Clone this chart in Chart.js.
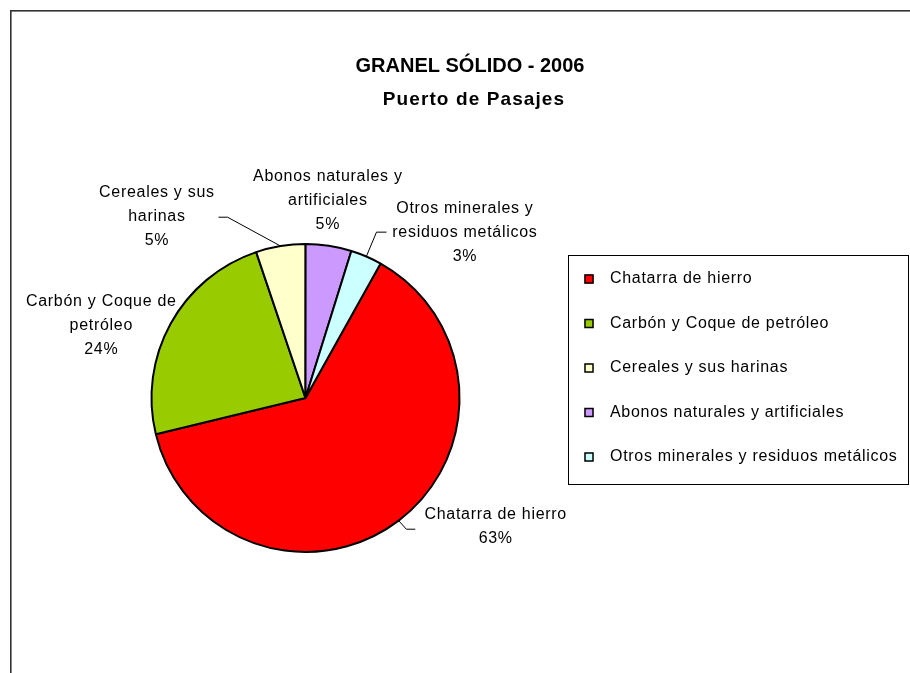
<!DOCTYPE html>
<html><head><meta charset="utf-8">
<script src="https://cdn.jsdelivr.net/npm/chart.js@4/dist/chart.umd.min.js"></script>
<style>html,body{margin:0;padding:0;background:#fff;overflow:hidden}#wrap{position:absolute;left:0;top:0;width:910px;height:673px}</style>
</head><body><div id="wrap"><canvas id="c" width="910" height="673"></canvas></div>
<script>
const categories = ['Chatarra de hierro','Carbón y Coque de petróleo','Cereales y sus harinas','Abonos naturales y artificiales','Otros minerales y residuos metálicos'];
const shares = [63.1, 23.6, 5.2, 4.8, 3.3];
const sliceLabelLines = [['Chatarra de hierro'],['Carbón y Coque de','petróleo'],['Cereales y sus','harinas'],['Abonos naturales y','artificiales'],['Otros minerales y','residuos metálicos']];
const titleLines = ['GRANEL SÓLIDO - 2006','Puerto de Pasajes'];
const colors = ['#FF0000','#99CC00','#FFFFCC','#CC99FF','#CCFFFF'];
// label block centres relative to pie centre, in units of the pie radius
const labelPos = [[1.235,0.835],[-1.326,-0.471],[-0.965,-1.181],[0.145,-1.284],[1.035,-1.077]];
const leaders = [[[0.655,0.852],[0.713,0.852]], null, [[-0.506,-1.174],[-0.565,-1.174]], null, [[0.461,-1.077],[0.526,-1.077]]];
const FONT = "'Liberation Sans', Arial, sans-serif";

const decor = {
  id: 'decor',
  beforeDraw(chart) {
    const ctx = chart.ctx;
    ctx.save();
    ctx.fillStyle = '#fff';
    ctx.fillRect(0, 0, chart.width, chart.height);
    // outer frame (cut off at right and bottom)
    ctx.fillStyle = '#333';
    ctx.fillRect(10, 10, chart.width - 10, 1.6);
    ctx.fillRect(10, 10, 1.6, chart.height - 10);
    // title
    ctx.fillStyle = '#000';
    ctx.textAlign = 'center';
    ctx.textBaseline = 'middle';
    ctx.font = 'bold 20px ' + FONT;
    ctx.letterSpacing = '0px';
    ctx.fillText(titleLines[0], 470, 66);
    ctx.font = 'bold 19px ' + FONT;
    ctx.letterSpacing = '1.1px';
    ctx.fillText(titleLines[1], 474, 100);
    ctx.restore();
  },
  afterDatasetsDraw(chart) {
    const ctx = chart.ctx;
    const meta = chart.getDatasetMeta(0);
    const data = chart.data.datasets[0].data;
    const total = data.reduce((a, b) => a + b, 0);
    ctx.save();
    ctx.font = '16px ' + FONT;
    ctx.letterSpacing = '0.7px';
    ctx.fillStyle = '#000';
    ctx.strokeStyle = '#000';
    ctx.lineWidth = 1;
    ctx.textAlign = 'center';
    ctx.textBaseline = 'middle';
    meta.data.forEach((arc, i) => {
      const p = arc.getProps(['x','y','startAngle','endAngle','outerRadius'], true);
      const R = p.outerRadius;
      const mid = (p.startAngle + p.endAngle) / 2;
      if (leaders[i]) {
        ctx.beginPath();
        ctx.moveTo(p.x + Math.cos(mid) * R, p.y + Math.sin(mid) * R);
        leaders[i].forEach(pt => ctx.lineTo(p.x + pt[0] * R, p.y + pt[1] * R));
        ctx.stroke();
      }
      const lines = sliceLabelLines[i].concat([Math.round(data[i] / total * 100) + '%']);
      const cx = p.x + labelPos[i][0] * R;
      const cy = p.y + labelPos[i][1] * R;
      const lh = 24;
      lines.forEach((t, k) => ctx.fillText(t, cx, cy - (lines.length - 1) * lh / 2 + k * lh));
    });
    ctx.restore();
  },
  afterDraw(chart) {
    const ctx = chart.ctx;
    const ds = chart.data.datasets[0];
    ctx.save();
    ctx.strokeStyle = '#000';
    ctx.lineWidth = 1;
    ctx.strokeRect(568.5, 255.5, 340, 229);
    ctx.font = '16px ' + FONT;
    ctx.letterSpacing = '0.7px';
    ctx.textAlign = 'left';
    ctx.textBaseline = 'middle';
    chart.data.labels.forEach((lab, i) => {
      const y = 279 + i * 44.5;
      ctx.fillStyle = ds.backgroundColor[i];
      ctx.fillRect(584.5, y - 4.5, 9, 9);
      ctx.lineWidth = 1.5;
      ctx.strokeRect(585, y - 4, 8, 8);
      ctx.fillStyle = '#000';
      ctx.fillText(lab, 610, y);
    });
    ctx.restore();
  }
};

new Chart(document.getElementById('c'), {
  type: 'pie',
  data: {
    labels: categories,
    datasets: [{
      data: shares,
      backgroundColor: colors,
      borderColor: '#000',
      borderWidth: 2,
      hoverOffset: 0
    }]
  },
  options: {
    responsive: false,
    animation: false,
    rotation: 29.2,
    layout: { padding: { left: 150, top: 243, right: 449, bottom: 120 } },
    plugins: { legend: { display: false }, tooltip: { enabled: false }, title: { display: false } }
  },
  plugins: [decor]
});
</script>
</body></html>
